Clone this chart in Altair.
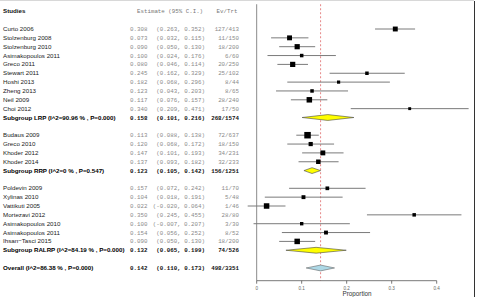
import altair as alt
import pandas as pd

# ---------------- data ----------------
names = ["Curto 2006", "Stolzenburg 2008", "Stolzenburg 2010", "Asimakopoulos 2011",
         "Greco 2011", "Stewart 2011", "Hoshi 2013", "Zheng 2013", "Neil 2009", "Choi 2012",
         "Subgroup LRP (I^2=90.96 % , P=0.000)",
         "Budaus 2009", "Greco 2010", "Khoder 2012", "Khoder 2014",
         "Subgroup RRP (I^2=0 % , P=0.547)",
         "Poldevin 2009", "Xylinas 2010", "Vattikuti 2005", "Mortezavi 2012",
         "Asimakopoulos 2010", "Asimakopoulos 2011", "Ihsan\u2212Tasci 2015",
         "Subgroup RALRP (I^2=84.19 % , P=0.000)",
         "Overall (I^2=86.38 % , P=0.000)"]
rows = [0, 1, 2, 3, 4, 5, 6, 7, 8, 9, 10,
        12, 13, 14, 15, 16,
        18, 19, 20, 21, 22, 23, 24, 25,
        27]
kinds = ["study"] * 10 + ["sub"] + ["study"] * 4 + ["sub"] + ["study"] * 7 + ["sub"] + ["overall"]
est = [0.308, 0.073, 0.090, 0.100, 0.080, 0.245, 0.182, 0.123, 0.117, 0.340, 0.158,
       0.113, 0.120, 0.147, 0.137, 0.123,
       0.157, 0.104, 0.022, 0.350, 0.100, 0.154, 0.090, 0.132,
       0.142]
lo = [0.263, 0.032, 0.050, 0.024, 0.046, 0.162, 0.068, 0.043, 0.076, 0.209, 0.101,
      0.088, 0.068, 0.101, 0.093, 0.105,
      0.072, 0.018, -0.020, 0.245, -0.007, 0.056, 0.050, 0.065,
      0.110]
hi = [0.352, 0.115, 0.130, 0.176, 0.114, 0.329, 0.296, 0.203, 0.157, 0.471, 0.216,
      0.138, 0.172, 0.193, 0.182, 0.142,
      0.242, 0.191, 0.064, 0.455, 0.207, 0.252, 0.130, 0.199,
      0.173]
ev_trt = ["127/413", "11/150", "18/200", "6/60", "20/250", "25/102", "8/44", "8/65", "28/240", "17/50",
          "268/1574",
          "72/637", "18/150", "34/231", "32/233", "156/1251",
          "11/70", "5/48", "1/46", "28/80", "3/30", "8/52", "18/200", "74/526",
          "498/3351"]
# square side (px)
square_side = [4.9, 4.9, 5.2, 3.5, 5.2, 3.5, 3.2, 3.5, 5.5, 2.9, 0,
               6.5, 4.2, 4.9, 4.5, 0,
               3.7, 3.9, 5.5, 3.5, 3.4, 3.9, 5.5, 0,
               0]
tick_values = [0.0, 0.1, 0.2, 0.3, 0.4]
tick_labels = ["0", "0.1", "0.2", "0.3", "0.4"]
x_title = "Proportion"

# ---------------- layout constants ----------------
W, H = 478, 297
X_DOMAIN = [-0.5704, 0.4918]
Y_DOMAIN = [-3.277, 30.282]
HEADER_ROW = -2
LINE_TOP = -2.8
AXIS_ROW = 28.44
TICK_END = 28.78
TICK_LABEL_ROW = 29.35
TITLE_ROW = 30.27
DIAMOND_HALF = 0.33

df = pd.DataFrame({"name": names, "row": rows, "kind": kinds, "est": est,
                   "lo": lo, "hi": hi, "evtrt": ev_trt, "side": square_side})
df["size"] = df["side"] ** 2
df["est_txt"] = df["est"].map(lambda v: f"{v:.3f}")
df["ci_txt"] = [f"({a:.3f}, {b:.3f})" for a, b in zip(df["lo"], df["hi"])]

xs = alt.Scale(domain=X_DOMAIN, nice=False, zero=False)
ys = alt.Scale(domain=Y_DOMAIN, nice=False, zero=False, reverse=True)
X = lambda f: alt.X(f, type="quantitative", scale=xs, axis=None)
Y = lambda f: alt.Y(f, type="quantitative", scale=ys, axis=None)

base = alt.Chart(df)
studies = base.transform_filter(alt.datum.kind == "study")
bold = base.transform_filter(alt.datum.kind != "study")

SANS = "Liberation Sans"
MONO = "Liberation Mono"

name_txt = studies.mark_text(align="left", baseline="middle", font=SANS, fontSize=6.2,
                             color="#222").encode(x=alt.value(3), y=Y("row"), text="name:N")
name_bold = bold.mark_text(align="left", baseline="middle", font=SANS, fontSize=6.2,
                           fontWeight="bold", color="#000").encode(x=alt.value(3), y=Y("row"), text="name:N")

def num_layers(src, color, weight):
    kw = dict(baseline="middle", font=MONO, fontSize=5.8, color=color, fontWeight=weight)
    a = src.mark_text(align="right", **kw).encode(x=alt.value(147.5), y=Y("row"), text="est_txt:N")
    b = src.mark_text(align="right", **kw).encode(x=alt.value(205), y=Y("row"), text="ci_txt:N")
    c = src.mark_text(align="right", **kw).encode(x=alt.value(239), y=Y("row"), text="evtrt:N")
    return [a, b, c]

num_norm = num_layers(studies, "#8a8a8a", "normal")
num_bold = num_layers(bold, "#111", "bold")

hdr = pd.DataFrame({"label": ["Studies", "Estimate (95% C.I.)", "Ev/Trt"],
                    "row": [HEADER_ROW] * 3})
hdr_studies = alt.Chart(hdr).transform_filter(alt.datum.label == "Studies").mark_text(
    align="left", baseline="middle", font=SANS, fontSize=6.2, fontWeight="bold", color="#111"
).encode(x=alt.value(3), y=Y("row"), text="label:N")
hdr_est = alt.Chart(hdr).transform_filter(alt.datum.label == "Estimate (95% C.I.)").mark_text(
    align="left", baseline="middle", font=MONO, fontSize=5.8, color="#777"
).encode(x=alt.value(137), y=Y("row"), text="label:N")
hdr_ev = alt.Chart(hdr).transform_filter(alt.datum.label == "Ev/Trt").mark_text(
    align="left", baseline="middle", font=MONO, fontSize=5.8, color="#777"
).encode(x=alt.value(216.5), y=Y("row"), text="label:N")

# vertical guide lines
overall_est = est[-1]
vlines = pd.DataFrame({"x": [0.0, overall_est], "y1": [LINE_TOP, LINE_TOP],
                       "y2": [AXIS_ROW, AXIS_ROW], "which": ["zero", "overall"]})
zero_line = alt.Chart(vlines).transform_filter(alt.datum.which == "zero").mark_rule(
    color="#8c8c8c", strokeWidth=1).encode(x=X("x"), y=Y("y1"), y2="y2")
ref_line = alt.Chart(vlines).transform_filter(alt.datum.which == "overall").mark_rule(
    color="#e06a6a", strokeWidth=0.8, strokeDash=[2, 2]).encode(x=X("x"), y=Y("y1"), y2="y2")

# CI lines and squares
ci = studies.mark_rule(color="#7a7a7a", strokeWidth=1).encode(x=X("lo"), x2="hi", y=Y("row"))
sq = studies.mark_point(shape="square", filled=True, color="#000", opacity=1, strokeWidth=0).encode(
    x=X("est"), y=Y("row"), size=alt.Size("size:Q", scale=None, legend=None))

# diamonds (vertical-orient areas: lo -> est -> hi)
drows = []
for n, r, k, e, a, b in zip(names, rows, kinds, est, lo, hi):
    if k == "study":
        continue
    drows.append({"id": n, "kind": k, "x": a, "ya": r, "yb": r})
    drows.append({"id": n, "kind": k, "x": e, "ya": r - DIAMOND_HALF, "yb": r + DIAMOND_HALF})
    drows.append({"id": n, "kind": k, "x": b, "ya": r, "yb": r})
ddf = pd.DataFrame(drows)
diam_sub = alt.Chart(ddf).transform_filter(alt.datum.kind == "sub").mark_area(
    color="#ffff00", stroke="#444", strokeWidth=0.6, opacity=1, fillOpacity=1
).encode(x=X("x"), y=Y("ya"), y2="yb", detail="id:N")
diam_all = alt.Chart(ddf).transform_filter(alt.datum.kind == "overall").mark_area(
    color="#add8e6", stroke="#666", strokeWidth=0.6, opacity=1, fillOpacity=1
).encode(x=X("x"), y=Y("ya"), y2="yb", detail="id:N")

# manual x axis
axdf = pd.DataFrame({"v": tick_values, "lab": tick_labels,
                     "y0": [AXIS_ROW] * len(tick_values), "y1": [TICK_END] * len(tick_values),
                     "yl": [TICK_LABEL_ROW] * len(tick_values)})
ax_base = alt.Chart(pd.DataFrame({"a": [tick_values[0]], "b": [tick_values[-1]], "y": [AXIS_ROW]})).mark_rule(
    color="#555", strokeWidth=0.8).encode(x=X("a"), x2="b", y=Y("y"))
ax_ticks = alt.Chart(axdf).mark_rule(color="#555", strokeWidth=0.8).encode(x=X("v"), y=Y("y0"), y2="y1")
ax_labels = alt.Chart(axdf).mark_text(font=SANS, fontSize=4.6, color="#666", baseline="middle").encode(
    x=X("v"), y=Y("yl"), text="lab:N")
ax_title = alt.Chart(pd.DataFrame({"t": [x_title], "x": [0.223], "y": [TITLE_ROW]})).mark_text(
    font=SANS, fontSize=6.3, color="#333", baseline="bottom").encode(x=X("x"), y=Y("y"), text="t:N")

# frame
frame_right = alt.Chart(pd.DataFrame({"a": [0]})).mark_rule(color="#333", strokeWidth=1).encode(
    x=alt.value(474.5), y=alt.value(1), y2=alt.value(H))
frame_top = alt.Chart(pd.DataFrame({"a": [0]})).mark_rule(color="#d8d8d8", strokeWidth=1).encode(
    x=alt.value(0), x2=alt.value(474), y=alt.value(0.5))

chart = alt.layer(
    frame_top, frame_right,
    zero_line, ref_line, ci, sq, diam_sub, diam_all,
    ax_base, ax_ticks, ax_labels, ax_title,
    hdr_studies, hdr_est, hdr_ev,
    name_txt, name_bold, *num_norm, *num_bold,
).properties(width=W, height=H, autosize="none", padding=0).configure_view(stroke=None)

chart.save("out.html", embed_options={"renderer": "svg", "actions": False})
